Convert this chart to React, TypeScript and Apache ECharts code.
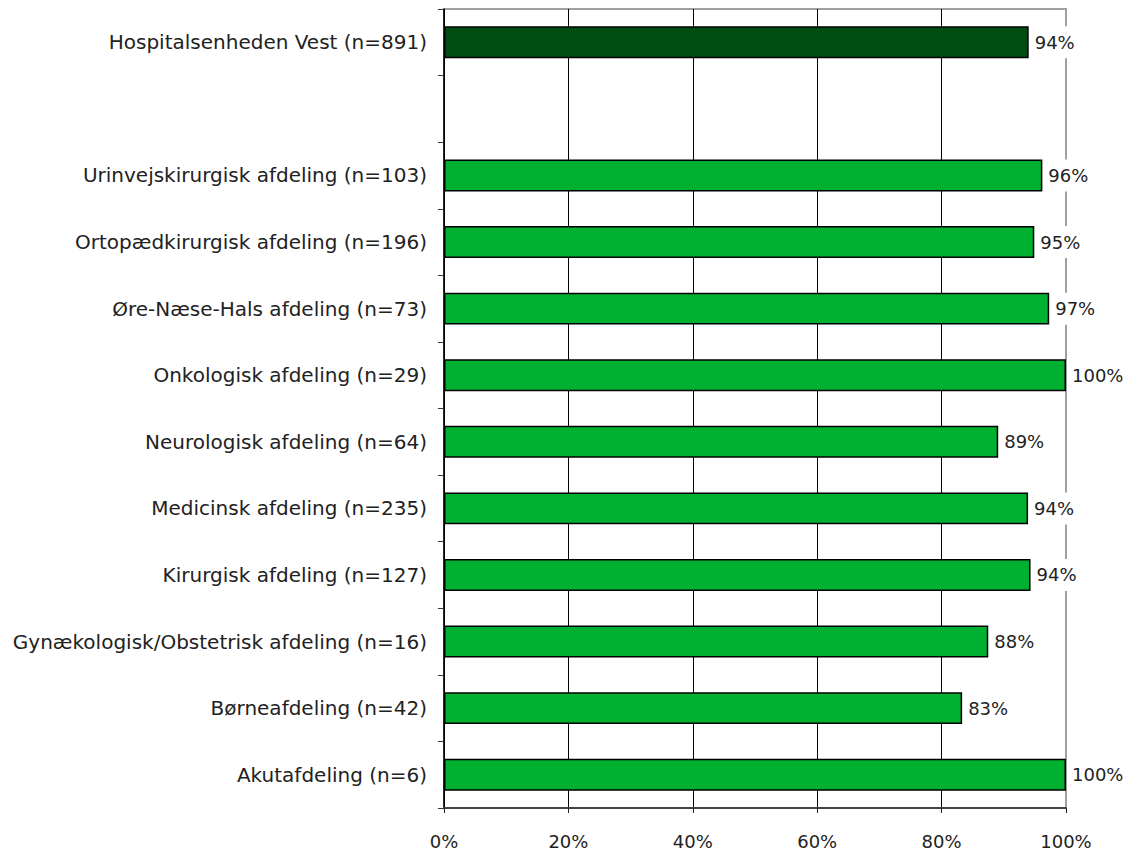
import React, { useEffect, useRef } from "react";
import * as echarts from "echarts";

const categories = [
  "Hospitalsenheden Vest (n=891)",
  "",
  "Urinvejskirurgisk afdeling (n=103)",
  "Ortopædkirurgisk afdeling (n=196)",
  "Øre-Næse-Hals afdeling (n=73)",
  "Onkologisk afdeling (n=29)",
  "Neurologisk afdeling (n=64)",
  "Medicinsk afdeling (n=235)",
  "Kirurgisk afdeling (n=127)",
  "Gynækologisk/Obstetrisk afdeling (n=16)",
  "Børneafdeling (n=42)",
  "Akutafdeling (n=6)",
];

const values: (number | null)[] = [94.0, null, 96.2, 94.9, 97.3, 100, 89.1, 93.9, 94.3, 87.5, 83.3, 100];

const xTicks = [0, 20, 40, 60, 80, 100];

const FONT = "DejaVu Sans";

export default function App() {
  const ref = useRef<HTMLDivElement>(null);
  useEffect(() => {
    if (!ref.current) return;
    const chart = echarts.init(ref.current, undefined, { renderer: "svg" });
    chart.setOption({
      animation: false,
      backgroundColor: "#fff",
      grid: {
        left: 444,
        right: 66,
        top: 9,
        bottom: 48,
        show: true,
        borderColor: "#a0a0a0",
        borderWidth: 2,
        containLabel: false,
      },
      xAxis: {
        type: "value",
        min: xTicks[0],
        max: xTicks[xTicks.length - 1],
        interval: 20,
        axisLine: { show: true, lineStyle: { color: "#444", width: 2 } },
        axisTick: { show: true, length: 5, lineStyle: { color: "#222" } },
        axisLabel: {
          formatter: (v: number) => `${v}%`,
          color: "#222",
          fontFamily: FONT,
          fontSize: 18,
          margin: 24,
        },
        splitLine: {
          show: true,
          lineStyle: { color: ["#000", "#000", "#000", "#000", "#000", "#a0a0a0"], width: 1 },
        },
      },
      yAxis: {
        type: "category",
        data: categories,
        inverse: true,
        axisLine: { show: true, lineStyle: { color: "#000", width: 1.5 } },
        axisTick: { show: true, length: 6, lineStyle: { color: "#333" } },
        axisLabel: {
          color: "#222",
          fontFamily: FONT,
          fontSize: 20,
          margin: 17,
        },
        splitLine: { show: false },
      },
      series: [
        {
          type: "bar",
          barWidth: "48%",
          data: values.map((v, i) => ({
            value: v,
            itemStyle: {
              color: i === 0 ? "#004D14" : "#00B030",
              borderColor: "#000",
              borderWidth: 1.5,
            },
          })),
          label: {
            show: true,
            position: "right",
            distance: 4,
            formatter: (p: any) => (p.value == null ? "" : `${Math.round(p.value)}%`),
            color: "#222",
            fontFamily: FONT,
            fontSize: 18,
            backgroundColor: "#fff",
            padding: [7, 2],
          },
        },
      ],
    });
    return () => chart.dispose();
  }, []);
  return (
    <div
      ref={ref}
      style={{ position: "absolute", left: 0, top: 0, width: 1132, height: 856 }}
    />
  );
}
